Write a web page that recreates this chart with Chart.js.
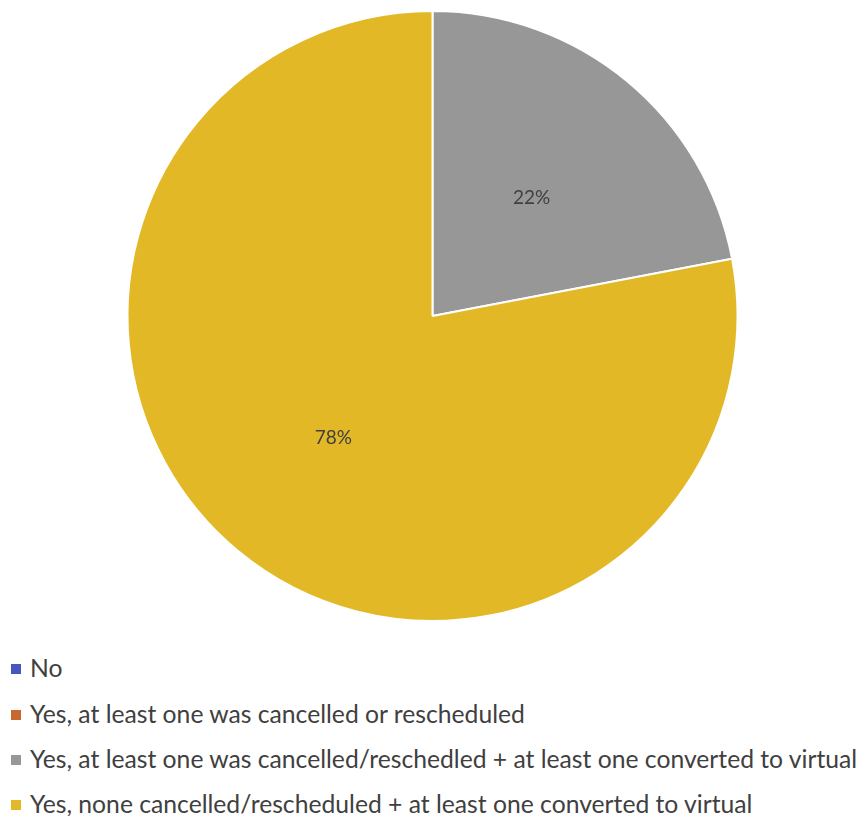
<!DOCTYPE html>
<html lang="en">
<head>
    <meta charset="UTF-8">
    <title>Pie</title>
    <script src="https://cdn.jsdelivr.net/npm/chart.js"></script>
    <style>
        body { margin: 0; background: #fff; }
        #wrap { width: 865px; height: 632px; position: relative; }
        #legend { position: absolute; left: 0; top: 640px; font-family: Lato, "Open Sans", sans-serif; font-size: 24.7px; color: #404040; }
        .item { position: absolute; left: 11px; white-space: nowrap; height: 30px; line-height: 30px; }
        .box { display: inline-block; width: 10px; height: 10px; margin-right: 9px; vertical-align: middle; position: relative; top: -2px; }
    </style>
</head>
<body>
<div id="wrap">
    <canvas id="pie-chart"></canvas>
</div>
<div id="legend"></div>

<script>
    const categories = [
        'No',
        'Yes, at least one was cancelled or rescheduled',
        'Yes, at least one was cancelled/reschedled + at least one converted to virtual',
        'Yes, none cancelled/rescheduled + at least one converted to virtual'
    ];
    const shares = [0, 0, 22, 78];
    const colors = ['#4657C0', '#C8682E', '#979797', '#E2B826'];

    // percent labels at half radius, like the spreadsheet
    const pctLabels = {
        id: 'pctLabels',
        afterDatasetsDraw(chart) {
            const c = chart.ctx;
            const total = shares.reduce((a, b) => a + b, 0);
            chart.getDatasetMeta(0).data.forEach((arc, i) => {
                if (!shares[i]) return;
                const p = arc.getProps(['x', 'y', 'startAngle', 'endAngle', 'outerRadius'], true);
                const mid = (p.startAngle + p.endAngle) / 2;
                const r = p.outerRadius * 0.51;
                c.save();
                c.font = '19px Lato, "Open Sans", sans-serif';
                c.fillStyle = '#404040';
                c.textAlign = 'center';
                c.textBaseline = 'middle';
                c.fillText(Math.round(shares[i] / total * 100) + '%', p.x + Math.cos(mid) * r, p.y + Math.sin(mid) * r + 2);
                c.restore();
            });
        }
    };

    let ctx = document.getElementById('pie-chart').getContext('2d');
    let chart = new Chart(ctx, {
        type: 'pie',
        data: {
            labels: categories,
            datasets: [{
                data: shares,
                backgroundColor: colors,
                borderColor: '#ffffff',
                borderWidth: 2
            }]
        },
        options: {
            responsive: true,
            maintainAspectRatio: false,
            animation: false,
            layout: { padding: { top: 10, bottom: 10 } },
            plugins: {
                legend: { display: false },
                tooltip: { enabled: false }
            }
        },
        plugins: [pctLabels]
    });

    const rowTops = [13, 59, 104, 149];
    const legend = document.getElementById('legend');
    categories.forEach((name, i) => {
        const row = document.createElement('div');
        row.className = 'item';
        row.style.top = rowTops[i] + 'px';
        row.innerHTML = '<span class="box" style="background:' + colors[i] + '"></span>' + name;
        legend.appendChild(row);
    });
</script>
</body>
</html>
